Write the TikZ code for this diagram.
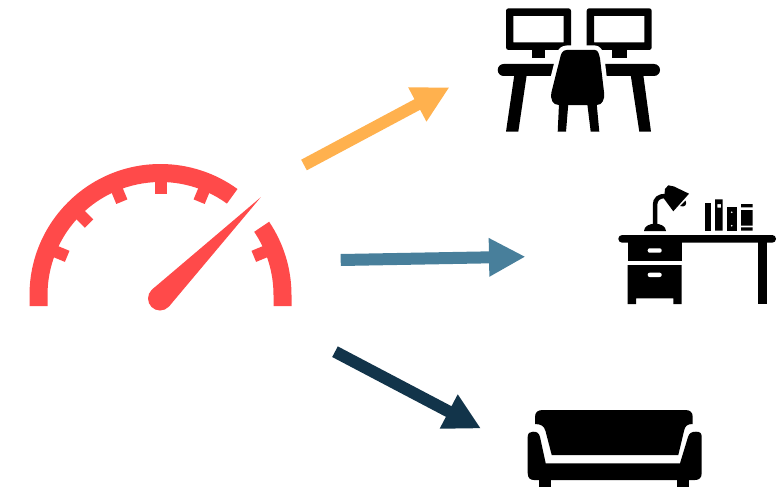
\documentclass[tikz,border=0pt]{standalone}
\usepackage{tikz}
\usetikzlibrary{arrows.meta}
\definecolor{gaugeRed}{RGB}{255, 74, 74}
\definecolor{arrowOrange}{RGB}{255, 177, 78}
\definecolor{arrowBlue}{RGB}{72, 127, 155}
\definecolor{arrowNavy}{RGB}{18, 52, 74}
\tikzset{
  flow/.style={line width=12pt, -{Triangle[length=36.5pt,width=36pt]}},
  tick mark/.style={gaugeRed, line width=12pt},
  icon/.style={fill=black}
}
\begin{document}
\begin{tikzpicture}[x=1pt,y=-1pt]
      \useasboundingbox (0,0) rectangle (779,487);
      % gauge
      \coordinate (gaugeC) at (160.5,295);
      \fill[gaugeRed] (29.5,306) -- (29.5,295) arc[start angle=-180,end angle=-54,radius=131]
        -- ([shift={(-54:113)}]gaugeC) arc[start angle=-54,end angle=-180,radius=113] -- (47.5,306) -- cycle;
      \fill[gaugeRed] (291.5,306) -- (291.5,295) arc[start angle=0,end angle=-34,radius=131]
        -- ([shift={(-34:113)}]gaugeC) arc[start angle=-34,end angle=0,radius=113] -- (273.5,306) -- cycle;
      \foreach \ang in {-157.5,-135,-112.5,-90,-67.5,-22.5}
        \draw[tick mark] ([shift={(\ang:115)}]gaugeC) -- ([shift={(\ang:101)}]gaugeC);
      % needle
      \fill[gaugeRed] (160,298.5) circle (12);
      \fill[gaugeRed] (260.7,197.3) -- (152.3,289.3) -- (169,306.5) -- cycle;

      % arrows
      \coordinate (startA) at (304,165);
      \coordinate (endA) at (449.5,87.3);
      \coordinate (startB) at (340.7,260);
      \coordinate (endB) at (525.5,256.7);
      \coordinate (startC) at (335,351.7);
      \coordinate (endC) at (481,428.5);
      \draw[flow, arrowOrange] (startA) -- (endA);
      \draw[flow, arrowBlue] (startB) -- (endB);
      \draw[flow, arrowNavy] (startC) -- (endC);

      % office desks
      \foreach \mx in {506,586.7} {
        \fill[icon, even odd rule, rounded corners=2.5] (\mx,8.3) rectangle +(65,41.7)
          [sharp corners] (\mx+7.3,16) rectangle +(50.3,26.3);
      }
      \fill[icon] (531.7,50) rectangle (545,58);
      \fill[icon] (612.3,50) rectangle (626.7,58);
      \fill[icon, rounded corners=6] (497.7,64) rectangle (575,76);
      \fill[icon, rounded corners=6] (585,64) rectangle (660,76);
      \fill[icon] (514.3,75) -- (526.7,75) -- (518.3,131.7) -- (506,131.7) -- cycle;
      \fill[icon] (630.7,75) -- (643.3,75) -- (651,131.7) -- (639.3,131.7) -- cycle;
      \path[icon, preaction={draw=white, line width=9pt, line join=round}] (566.7,50) .. controls (562,50) and (561,54) .. (560,58.3)
        -- (551.5,92) .. controls (550,100) and (553,105) .. (559,105) -- (596.7,105)
        .. controls (602,105) and (605,100) .. (604,92) -- (600,58.3)
        .. controls (599,54) and (598,50) .. (595,50) -- cycle;
      \fill[icon] (559,104) -- (568.3,104) -- (566,131.7) -- (557.7,131.7) -- cycle;
      \fill[icon] (587.3,104) -- (596.7,104) -- (599.3,131.7) -- (590.7,131.7) -- cycle;

      % study desk
      \fill[icon, rounded corners=3.8] (618.3,235) rectangle (776,242.7);
      \fill[icon] (627.7,240) rectangle (681.7,261);
      \fill[icon] (627.7,265) -- (681.7,265) -- (681.7,304) -- (673.3,304) -- (673.3,298.3)
        -- (636,298.3) -- (636,304) -- (627.7,304) -- cycle;
      \fill[icon] (758.3,240) rectangle (766.7,304);
      \fill[white, rounded corners=2] (647.7,248.3) rectangle (661.7,252.7);
      \fill[white, rounded corners=2] (647.7,272.7) rectangle (661.7,277);
      % lamp
      \fill[icon] (644,231) .. controls (644,226) and (650,223.7) .. (655,223.7)
        .. controls (660,223.7) and (666,226) .. (666,231) -- cycle;
      \draw[line width=4.5pt] (655,225) -- (655,205) .. controls (655,199) and (659,196) .. (665,196);
      \fill[icon] (665,189) -- (668.3,185.3) -- (674,186.5) -- (689,193.7) -- (673.3,211.3) -- (664,198.7) -- cycle;
      \fill[icon] (680,206) -- (685.5,200.5) .. controls (687.5,204) and (685,208) .. (680,206) -- cycle;
      % books
      \fill[icon] (705,203.3) rectangle (711,230.7);
      \fill[icon, even odd rule] (715,199.3) rectangle (722.7,230.7) (717.3,204) rectangle (721,207.7);
      \fill[icon] (726.7,207.3) rectangle (736.7,230.7);
      \fill[white] (731.7,212.3) circle (0.9) (731.7,225.7) circle (0.9);
      \fill[icon] (741,204) rectangle (752.7,207.3) (741,210) rectangle (752.7,225.7) (741,227.3) rectangle (752.7,230.7);

      % sofa
      \fill[icon] (535,424) -- (535,417) .. controls (535,412) and (538,410) .. (543,410) -- (685,410)
        .. controls (690,410) and (692.7,412) .. (692.7,417) -- (692.7,424)
        .. controls (687,424) and (685,426) .. (684,431) -- (678.3,455) -- (551.7,455) -- (545.5,431)
        .. controls (544,426) and (541,424) .. (535,424) -- cycle;
      \fill[icon] (527.7,437) .. controls (527.7,433) and (530,431.7) .. (533,431.7)
        .. controls (537,431.7) and (539,433) .. (540,437) -- (545.7,463.3) -- (680,463.3) -- (688,437)
        .. controls (689,433) and (692,431.7) .. (696,431.7) .. controls (700,431.7) and (701.7,433) .. (701.7,437)
        -- (701.7,473) .. controls (701.7,478) and (699,480) .. (695,480) -- (534,480)
        .. controls (530,480) and (527.7,478) .. (527.7,473) -- cycle;
      \fill[icon] (539,479) rectangle (550.7,487);
      \fill[icon] (677.3,479) rectangle (689,487);
    \end{tikzpicture}
\end{document}
